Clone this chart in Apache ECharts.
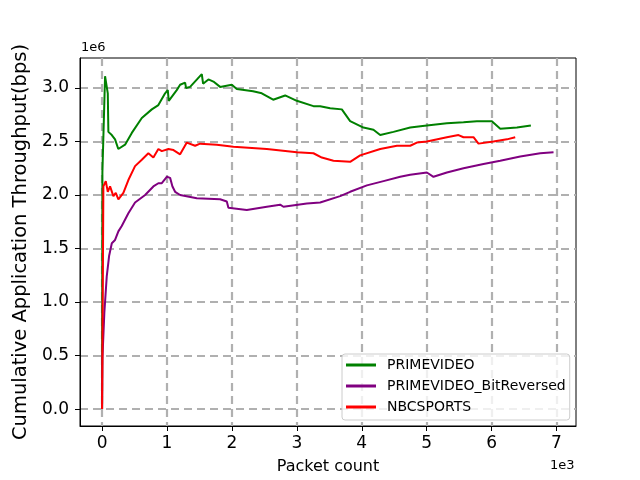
<!DOCTYPE html>
<html><head><meta charset="utf-8">
<script src="https://cdn.jsdelivr.net/npm/echarts@6/dist/echarts.min.js"></script>
<style>html,body{margin:0;padding:0;background:#fff}#c{width:640px;height:480px}</style>
</head><body><div id="c"></div>
<script>
// packet count, cumulative throughput (bps)
const primeX = [0,5,46,88,97,150,200,250,354,458,612,766,867,971,1012,1027,1150,1202,1279,1294,1356,1536,1556,1638,1715,1818,1998,2075,2326,2460,2635,2820,3000,3256,3359,3513,3693,3821,4026,4180,4284,4488,4746,5003,5311,5567,5773,6004,6133,6390,6605];
const primeY = [0,2.21,3.11,2.95,2.59,2.56,2.52,2.43,2.47,2.58,2.72,2.80,2.84,2.95,2.98,2.88,2.98,3.03,3.05,3.00,3.01,3.13,3.04,3.08,3.06,3.01,3.03,2.99,2.97,2.95,2.89,2.93,2.88,2.83,2.83,2.81,2.80,2.69,2.63,2.61,2.56,2.59,2.63,2.65,2.67,2.68,2.69,2.69,2.62,2.63,2.65];
const bitrevX = [0,5,35,72,108,150,200,251,303,405,508,663,790,867,920,997,1048,1084,1125,1202,1459,1818,1921,1946,2229,2538,2743,2794,3154,3359,3667,3821,4079,4335,4592,4746,5003,5105,5311,5567,5875,6133,6441,6749,6954];
const bitrevY = [0,0.47,0.90,1.24,1.43,1.55,1.58,1.66,1.71,1.83,1.93,2.00,2.08,2.11,2.11,2.17,2.16,2.08,2.03,2.00,1.97,1.96,1.94,1.88,1.86,1.89,1.91,1.89,1.92,1.93,1.99,2.03,2.09,2.13,2.17,2.19,2.21,2.17,2.21,2.25,2.29,2.32,2.36,2.39,2.40];
const nbcX = [0,20,57,88,123,174,211,251,328,405,508,612,713,790,867,920,1022,1100,1202,1305,1433,1510,1767,2023,2538,3000,3256,3385,3564,3821,3975,4284,4541,4746,4849,5003,5311,5490,5567,5721,5798,6029,6236,6364];
const nbcY = [0,2.08,2.13,2.03,2.08,1.99,2.02,1.96,2.02,2.14,2.27,2.33,2.39,2.35,2.43,2.41,2.43,2.42,2.38,2.49,2.46,2.48,2.47,2.45,2.43,2.40,2.39,2.35,2.32,2.31,2.37,2.43,2.46,2.46,2.49,2.50,2.54,2.56,2.54,2.54,2.48,2.50,2.52,2.54];
const xTicks = [0,1000,2000,3000,4000,5000,6000,7000];
const yTicks = [0,500000,1000000,1500000,2000000,2500000,3000000];
const seriesNames = ['PRIMEVIDEO','PRIMEVIDEO_BitReversed','NBCSPORTS'];
const seriesColors = ['#008000','#800080','#ff0000'];

function pairs(xs, ys){ return xs.map((x,i)=>[x, ys[i]*1e6]); }
const datasets = [pairs(primeX,primeY), pairs(bitrevX,bitrevY), pairs(nbcX,nbcY)];

const FONT = 'DejaVu Sans';
const gridLine = {show:true, lineStyle:{color:'#b0b0b0', width:2.2, type:[8,5]}};
const chart = echarts.init(document.getElementById('c'), null, {renderer:'canvas'});
chart.setOption({
  animation:false,
  textStyle:{fontFamily:FONT},
  grid:{left:80, right:64, top:58, bottom:53, show:true, borderColor:'#000', borderWidth:1, containLabel:false},
  graphic:[
    {type:'text', left:81, top:41, style:{text:'1e6', font:'13px "DejaVu Sans"', fill:'#000'}},
    {type:'text', left:550, top:459, style:{text:'1e3', font:'13px "DejaVu Sans"', fill:'#000'}}
  ],
  xAxis:{type:'value', min:-340, max:7300,
    name:'Packet count', nameLocation:'middle', nameGap:33,
    nameTextStyle:{fontSize:16, color:'#000', fontFamily:FONT},
    axisLine:{show:true, onZero:false, lineStyle:{color:'#000', width:1}},
    axisTick:{show:true, inside:false, length:5, customValues:xTicks, lineStyle:{color:'#000', width:1}},
    axisLabel:{customValues:xTicks, formatter:v=>String(Math.round(v/1000)), fontSize:17, color:'#000', margin:9, fontFamily:FONT},
    splitLine:gridLine},
  yAxis:{type:'value', min:-158000, max:3280000,
    name:'Cumulative Application Throughput(bps)', nameLocation:'middle', nameGap:48, nameRotate:90,
    nameTextStyle:{fontSize:19.5, color:'#000', fontFamily:FONT},
    axisLine:{show:true, onZero:false, lineStyle:{color:'#000', width:1}},
    axisTick:{show:true, inside:false, length:5, customValues:yTicks, lineStyle:{color:'#000', width:1}},
    axisLabel:{customValues:yTicks, formatter:v=>(v/1e6).toFixed(1), fontSize:17, color:'#000', margin:11, fontFamily:FONT},
    splitLine:gridLine},
  legend:{orient:'vertical', left:342, top:354,
    data:seriesNames, icon:'rect', itemWidth:30, itemHeight:3, itemGap:5,
    padding:[3,4,5,4], backgroundColor:'rgba(255,255,255,0.8)', borderColor:'#cccccc', borderWidth:1, borderRadius:3,
    textStyle:{fontSize:14, lineHeight:16, color:'#000', fontFamily:FONT, padding:[0,0,0,6]}},
  series: seriesNames.map((n,i)=>({name:n, type:'line', data:datasets[i], showSymbol:false, symbol:'none',
    lineStyle:{color:seriesColors[i], width:2}, itemStyle:{color:seriesColors[i]}}))
});
</script></body></html>
